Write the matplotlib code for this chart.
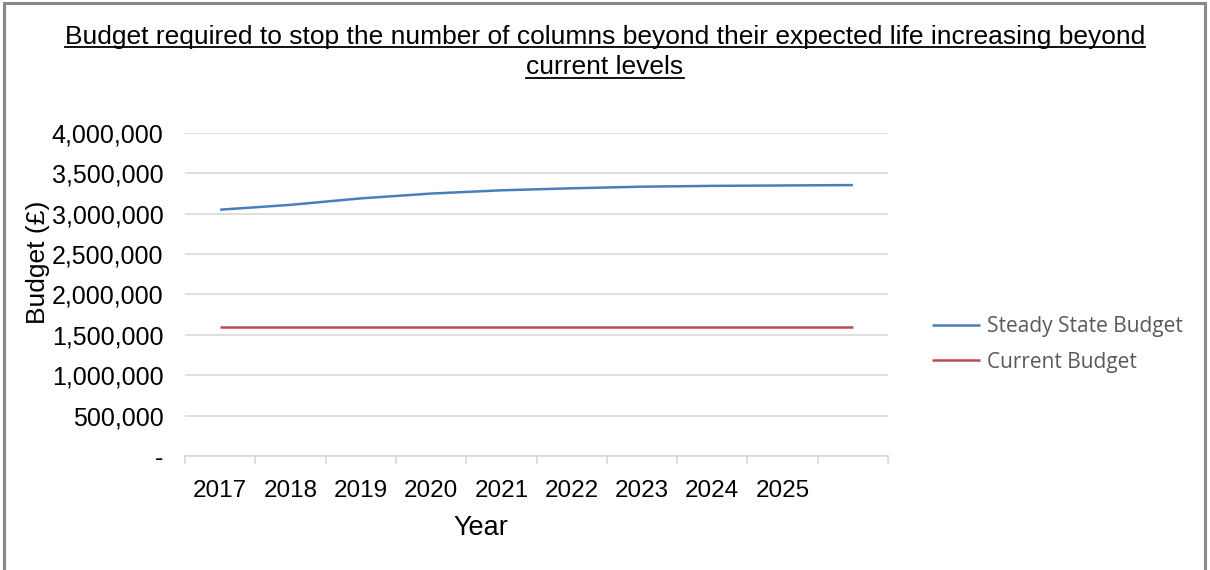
import matplotlib
matplotlib.use("Agg")
import matplotlib.pyplot as plt
from matplotlib.ticker import FuncFormatter, FixedLocator
from matplotlib.lines import Line2D
from matplotlib.patches import Rectangle

# budget figures per year (last column has no year label)
years = ["2017", "2018", "2019", "2020", "2021", "2022", "2023", "2024", "2025", ""]
steady_state = [3050000, 3110000, 3190000, 3250000, 3290000, 3315000, 3335000, 3345000, 3350000, 3355000]
current = [1600000] * 10

plt.rcParams['font.family'] = ['Liberation Sans', 'DejaVu Sans']

fig = plt.figure(figsize=(12.1, 5.7), dpi=100)
ax = fig.add_axes([0.1529, 0.2, 0.581, 0.5667])

x = list(range(len(years)))
ax.plot(x, steady_state, color="#4a7ebb", lw=1.8, label="Steady State Budget", solid_capstyle="butt")
ax.plot(x, current, color="#be4b48", lw=1.8, label="Current Budget", solid_capstyle="butt")

ax.set_xlim(-0.5, len(years) - 0.5)
ax.set_ylim(0, 4000000)
ax.set_yticks(range(0, 4000001, 500000))
ax.yaxis.set_major_formatter(FuncFormatter(lambda v, p: "-" if v == 0 else f"{int(v):,}"))
ax.grid(axis="y", color="#d9d9d9", lw=1.2)
ax.set_axisbelow(True)

# category labels in the middle, tick marks on the boundaries
ax.set_xticks(x)
ax.set_xticklabels(years)
ax.tick_params(axis="x", which="major", length=0, labelsize=17.5, pad=17)
ax.xaxis.set_minor_locator(FixedLocator([i - 0.5 for i in range(len(years) + 1)]))
ax.tick_params(axis="x", which="minor", length=6, color="#d9d9d9", width=1.2)
ax.tick_params(axis="y", length=0, labelsize=18, pad=15.5)

for s in ["top", "right", "left"]:
    ax.spines[s].set_visible(False)
ax.spines["bottom"].set_color("#d9d9d9")
ax.spines["bottom"].set_linewidth(1.2)

ax.set_ylabel("Budget (£)", fontsize=19, va="center")
ax.yaxis.set_label_coords(-0.209, 0.6)
ax.set_xlabel("Year", fontsize=19.5, va="center")
ax.xaxis.set_label_coords(0.421, -0.222)

leg = ax.legend(loc="center left", bbox_to_anchor=(1.0626, 0.345), frameon=False,
                prop={"family": "Open Sans", "size": 15}, handlelength=2.3,
                handletextpad=0.33, labelspacing=0.69, borderpad=0, borderaxespad=0)
for t in leg.get_texts():
    t.set_color("#595959")

# underlined two-line title
title_lines = ["Budget required to stop the number of columns beyond their expected life increasing beyond",
               "current levels"]
title_y = [0.935, 0.882]
texts = [fig.text(0.5, ty, line, ha="center", va="center", fontsize=19) for line, ty in zip(title_lines, title_y)]
fig.canvas.draw()
r = fig.canvas.get_renderer()
for t in texts:
    bb = t.get_window_extent(r).transformed(fig.transFigure.inverted())
    uy = bb.y0 + 0.003
    fig.add_artist(Line2D([bb.x0, bb.x1], [uy, uy], color="black", lw=1.3))

# outer chart frame
fig.add_artist(Rectangle((0.003, -0.05), 0.993, 1.045, fill=False, edgecolor="#898989", lw=2.2,
                         transform=fig.transFigure, clip_on=False))

fig.savefig("out.png", dpi=100)
